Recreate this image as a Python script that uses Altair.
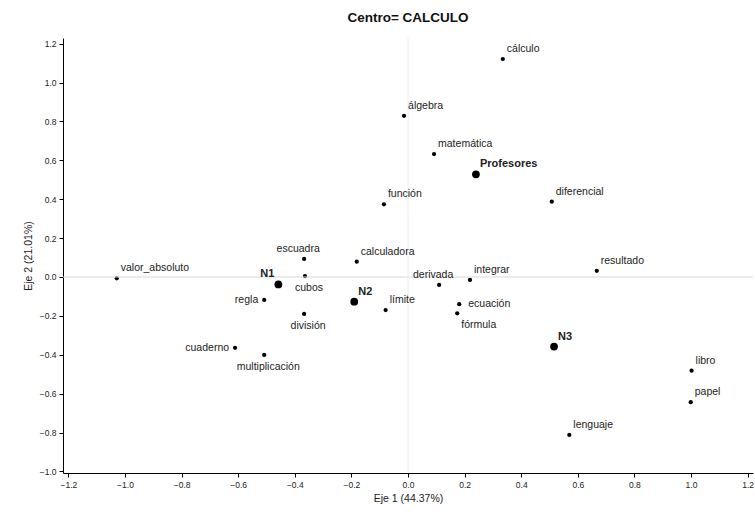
import altair as alt
import pandas as pd

# ---- data ----
names = ["cálculo", "álgebra", "matemática", "Profesores", "función", "diferencial",
         "resultado", "N3", "libro", "papel", "lenguaje", "calculadora", "derivada",
         "integrar", "N2", "límite", "ecuación", "fórmula", "N1", "escuadra", "cubos",
         "regla", "división", "cuaderno", "multiplicación", "valor_absoluto"]
dim1 = [0.335, -0.014, 0.092, 0.240, -0.085, 0.508,
        0.667, 0.516, 1.002, 0.999, 0.570, -0.181, 0.110,
        0.219, -0.190, -0.079, 0.181, 0.174, -0.458, -0.367, -0.364,
        -0.508, -0.367, -0.611, -0.508, -1.029]
dim2 = [1.121, 0.829, 0.632, 0.528, 0.374, 0.387,
        0.032, -0.358, -0.482, -0.644, -0.812, 0.079, -0.041,
        -0.015, -0.127, -0.170, -0.140, -0.187, -0.038, 0.093, 0.005,
        -0.118, -0.190, -0.364, -0.401, -0.007]
kind = ["word", "word", "word", "group", "word", "word",
        "word", "group", "word", "word", "word", "word", "word",
        "word", "group", "word", "word", "word", "group", "word", "word",
        "word", "word", "word", "word", "word"]
# label placement (style only)
place = ["ur", "ur", "ur", "ur", "ur", "ur",
         "ur", "ur", "ur", "ur", "ur", "ur", "a",
         "ur", "ur", "ur", "r", "br", "ul", "a", "b",
         "l", "b", "l", "b", "ur"]

x_ticks = [-1.2, -1.0, -0.8, -0.6, -0.4, -0.2, 0.0, 0.2, 0.4, 0.6, 0.8, 1.0, 1.2]
y_ticks = [-1.0, -0.8, -0.6, -0.4, -0.2, 0.0, 0.2, 0.4, 0.6, 0.8, 1.0, 1.2]

df = pd.DataFrame({"name": names, "d1": dim1, "d2": dim2, "kind": kind, "place": place})

FONT = "Liberation Sans"
xs = alt.Scale(domain=[-1.219, 1.219], nice=False, zero=False)
ys = alt.Scale(domain=[-1.008, 1.229], nice=False, zero=False)

axis_common = dict(format=".1f", grid=False, tickSize=4, labelOverlap=False,
                   labelFontSize=8.5, titleFontSize=10.5, titleFontWeight="normal",
                   domainColor="#000", tickColor="#000", labelColor="#222",
                   titleColor="#222", labelPadding=3)
x_axis = alt.Axis(values=x_ticks, titlePadding=5, **axis_common)
y_axis = alt.Axis(values=y_ticks, titlePadding=6, **axis_common)


def X(field):
    return alt.X(field, scale=xs, title="Eje 1 (44.37%)", axis=x_axis)


def Y(field):
    return alt.Y(field, scale=ys, title="Eje 2 (21.01%)", axis=y_axis)


base = alt.Chart(df)

pts_small = base.transform_filter(alt.datum.kind == "word").mark_circle(
    color="#000", opacity=1, size=18).encode(x=X("d1:Q"), y=Y("d2:Q"))
pts_big = base.transform_filter(alt.datum.kind == "group").mark_circle(
    color="#000", opacity=1, size=60).encode(x=X("d1:Q"), y=Y("d2:Q"))

zero_h = alt.Chart(pd.DataFrame({"v": [0.0]})).mark_rule(color="#d8d8d8", strokeWidth=1).encode(
    y=Y("v:Q"))
zero_v = alt.Chart(pd.DataFrame({"v": [0.0]})).mark_rule(color="#eeeeee", strokeWidth=1).encode(
    x=X("v:Q"))

specs = {
    "ur": dict(align="left", baseline="bottom", dx=4, dy=-5),
    "ul": dict(align="right", baseline="bottom", dx=-4, dy=-5),
    "r": dict(align="left", baseline="middle", dx=9, dy=0),
    "l": dict(align="right", baseline="middle", dx=-6, dy=0),
    "a": dict(align="center", baseline="bottom", dx=-6, dy=-5),
    "b": dict(align="center", baseline="top", dx=4, dy=7),
    "br": dict(align="left", baseline="top", dx=4, dy=7),
}

layers = [pts_small, zero_h, zero_v, pts_big]
for p, s in specs.items():
    for k, w, fs in [("word", "normal", 10.5), ("group", "bold", 11)]:
        layers.append(
            base.transform_filter((alt.datum.place == p) & (alt.datum.kind == k))
            .mark_text(font=FONT, fontSize=fs, fontWeight=w, color="#222", **s)
            .encode(x=X("d1:Q"), y=Y("d2:Q"), text="name:N")
        )

chart = alt.layer(*layers).properties(
    width=690, height=435,
    title=alt.Title("Centro= CALCULO", fontSize=13.5, fontWeight="bold", font=FONT,
                    anchor="middle", offset=13, color="#111"),
    autosize=alt.AutoSizeParams(type="none"),
    padding={"left": 63, "top": 38, "right": 2, "bottom": 47},
).configure_view(stroke=None).configure_axis(labelFont=FONT, titleFont=FONT)

chart.save("out.html", embed_options={"renderer": "svg", "actions": False})
